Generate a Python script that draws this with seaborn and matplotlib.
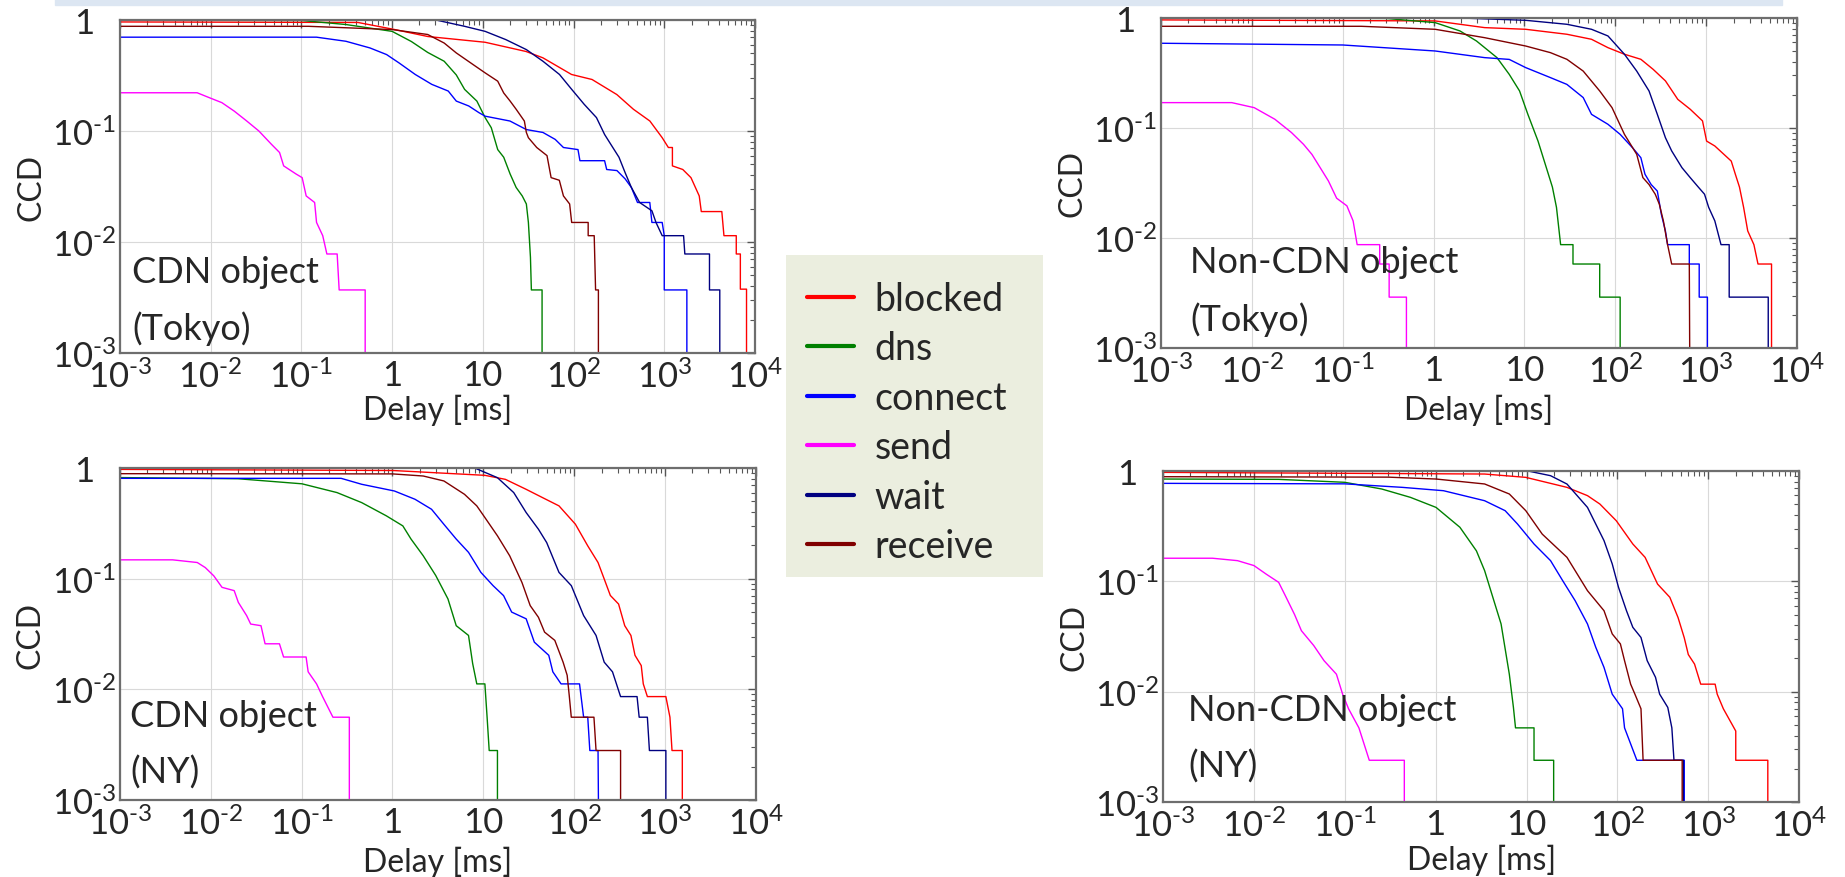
import matplotlib
matplotlib.use("Agg")
import matplotlib.pyplot as plt
import matplotlib.ticker as mticker
from matplotlib.lines import Line2D
from matplotlib.patches import Rectangle
import numpy as np
import seaborn as sns

# ---- data: (delay [ms], CCD) ----
# CDN object (Tokyo)
tokyo_cdn_blocked = [(0.001, 0.96), (0.42, 0.95), (1.07, 0.82), (2.47, 0.71), (10.6, 0.63), (30, 0.52),
                     (46, 0.456), (95, 0.323), (160, 0.291), (300, 0.213), (457, 0.157), (694, 0.123),
                     (949, 0.087), (1110, 0.071), (1230, 0.071), (1230, 0.0485), (1600, 0.045),
                     (1970, 0.038), (2430, 0.026), (2560, 0.0188), (4310, 0.0188), (4550, 0.0114),
                     (6220, 0.0114), (6220, 0.0078), (6900, 0.0078), (6900, 0.00376), (8070, 0.00376),
                     (8070, 0.0001)]
tokyo_cdn_dns = [(0.001, 0.995), (0.1, 0.99), (0.31, 0.91), (1.0, 0.79), (1.63, 0.64), (2.47, 0.51),
                 (3.75, 0.425), (5.1, 0.32), (6.3, 0.237), (8.6, 0.186), (10.6, 0.132), (12.4, 0.107),
                 (14.6, 0.068), (17, 0.058), (20, 0.041), (23.3, 0.031), (27.2, 0.026), (30.2, 0.022),
                 (31.8, 0.015), (33.5, 0.0073), (34.3, 0.0037), (45, 0.0037), (45, 0.0001)]
tokyo_cdn_connect = [(0.001, 0.70), (0.147, 0.70), (0.31, 0.643), (0.57, 0.56), (0.87, 0.488),
                     (1.19, 0.411), (1.8, 0.323), (2.74, 0.263), (4.16, 0.229), (5.1, 0.186), (7.0, 0.168),
                     (9.1, 0.146), (10.6, 0.136), (19.9, 0.123), (30.2, 0.103), (46, 0.097), (62.8, 0.084),
                     (77.4, 0.071), (112, 0.068), (117.6, 0.054), (220, 0.054), (232, 0.045), (301, 0.044),
                     (371, 0.037), (434, 0.031), (507, 0.0227), (693, 0.0227), (731, 0.015), (949, 0.015),
                     (1000, 0.0114), (1000, 0.0037), (1775, 0.0037), (1775, 0.0001)]
tokyo_cdn_send = [(0.001, 0.221), (0.0071, 0.221), (0.00975, 0.199), (0.0133, 0.18), (0.0182, 0.151),
                  (0.025, 0.123), (0.034, 0.1), (0.0467, 0.076), (0.0575, 0.064), (0.0638, 0.0485),
                  (0.0873, 0.041), (0.102, 0.038), (0.113, 0.026), (0.14, 0.0227), (0.147, 0.015),
                  (0.172, 0.0114), (0.191, 0.0078), (0.248, 0.0078), (0.261, 0.0037), (0.505, 0.0037),
                  (0.505, 0.0001)]
tokyo_cdn_wait = [(3.04, 1.0), (6.3, 0.877), (10.6, 0.79), (17.9, 0.666), (30.2, 0.541), (46, 0.425),
                  (70, 0.323), (95.5, 0.237), (131, 0.174), (179, 0.132), (220, 0.093), (271, 0.071),
                  (317, 0.058), (371, 0.042), (434, 0.031), (535, 0.0227), (731, 0.0191), (811, 0.015),
                  (949, 0.0114), (1633, 0.0114), (1686, 0.0078), (3152, 0.0078), (3152, 0.0037),
                  (4093, 0.0037), (4093, 0.0001)]
tokyo_cdn_receive = [(0.001, 0.877), (0.12, 0.877), (1.0, 0.82), (2.47, 0.74), (3.75, 0.62), (5.1, 0.505),
                     (7.8, 0.397), (10.6, 0.334), (14.6, 0.281), (17, 0.22), (20, 0.186), (23.3, 0.157),
                     (28.7, 0.123), (30.2, 0.097), (31.8, 0.087), (39.3, 0.071), (51, 0.06), (56.6, 0.038),
                     (69.7, 0.036), (77.4, 0.026), (90.6, 0.022), (95.4, 0.015), (145, 0.015), (145, 0.0114),
                     (169, 0.0114), (175, 0.0037), (188, 0.0037), (188, 0.0001)]

# Non-CDN object (Tokyo)
tokyo_non_blocked = [(0.001, 0.96), (1.04, 0.94), (3.64, 0.817), (10.3, 0.789), (29.3, 0.711), (54.7, 0.64),
                     (83, 0.537), (126, 0.468), (191, 0.421), (261, 0.341), (356, 0.268), (487, 0.182),
                     (667, 0.148), (911, 0.116), (1011, 0.076), (1245, 0.0686), (1888, 0.05), (2094, 0.038),
                     (2326, 0.029), (2582, 0.019), (2866, 0.0116), (3352, 0.0087), (3718, 0.0058),
                     (5240, 0.0058), (5240, 0.0001)]
tokyo_non_dns = [(0.01, 1.0), (0.3, 0.99), (1.04, 0.907), (1.95, 0.762), (2.96, 0.618), (4.98, 0.436),
                 (6.8, 0.307), (8.83, 0.217), (10.9, 0.133), (14.1, 0.076), (17.4, 0.0436), (20.3, 0.029),
                 (22.5, 0.019), (25, 0.0087), (34.2, 0.0087), (34.2, 0.0058), (67.3, 0.0058),
                 (67.3, 0.0029), (113, 0.0029), (113, 0.0001)]
tokyo_non_connect = [(0.001, 0.589), (0.1, 0.568), (1.04, 0.501), (3.64, 0.436), (6.8, 0.42), (10.3, 0.354),
                     (19.3, 0.287), (29.3, 0.249), (44.3, 0.189), (54.7, 0.133), (83, 0.108), (113, 0.0875),
                     (155, 0.066), (191, 0.0537), (212, 0.038), (248, 0.0306), (290, 0.0267), (321, 0.0164),
                     (356, 0.0116), (376, 0.0087), (652, 0.0087), (652, 0.0058), (838, 0.0058),
                     (838, 0.0029), (1032, 0.0029), (1032, 0.0001)]
tokyo_non_send = [(0.001, 0.17), (0.006, 0.17), (0.0106, 0.153), (0.0179, 0.12), (0.0272, 0.091),
                  (0.037, 0.071), (0.0458, 0.0575), (0.0564, 0.0436), (0.0695, 0.033), (0.0856, 0.023),
                  (0.111, 0.0196), (0.13, 0.0143), (0.144, 0.0087), (0.255, 0.0087), (0.255, 0.0058),
                  (0.324, 0.0058), (0.324, 0.0029), (0.502, 0.0029), (0.502, 0.0001)]
tokyo_non_wait = [(1.95, 1.0), (10.3, 0.952), (29.3, 0.876), (54.7, 0.789), (83, 0.686), (126, 0.468),
                  (172, 0.329), (235, 0.217), (290, 0.133), (356, 0.0816), (417, 0.0619), (541, 0.0436),
                  (667, 0.0354), (820, 0.029), (959, 0.025), (1065, 0.019), (1245, 0.0143), (1456, 0.0087),
                  (1792, 0.0087), (1792, 0.0029), (4820, 0.0029), (4820, 0.0001)]
tokyo_non_receive = [(0.001, 0.84), (0.16, 0.84), (1.04, 0.789), (3.64, 0.662), (10.3, 0.556), (19.3, 0.484),
                     (29.3, 0.421), (44.3, 0.329), (67.3, 0.217), (92, 0.153), (126, 0.0875), (172, 0.0576),
                     (201, 0.0354), (235, 0.0306), (275, 0.025), (305, 0.0203), (338, 0.0143), (376, 0.0087),
                     (417, 0.0058), (652, 0.0058), (667, 0.0001)]

# CDN object (NY)
ny_cdn_blocked = [(0.001, 0.972), (1.0, 0.95), (10.4, 0.859), (17.5, 0.79), (29.6, 0.642), (44.9, 0.54),
                  (68, 0.455), (103, 0.311), (141, 0.198), (183, 0.14), (214, 0.0994), (250, 0.0705),
                  (308, 0.059), (360, 0.0376), (421, 0.0307), (467, 0.0203), (547, 0.0164), (576, 0.0112),
                  (639, 0.0086), (1021, 0.0086), (1132, 0.0056), (1193, 0.0028), (1549, 0.0028),
                  (1549, 0.0001)]
ny_cdn_dns = [(0.001, 0.82), (0.02, 0.80), (0.101, 0.72), (0.245, 0.60), (0.458, 0.487), (0.855, 0.37),
              (1.3, 0.30), (1.6, 0.228), (2.18, 0.161), (2.99, 0.107), (4.08, 0.0656), (5.03, 0.0376),
              (6.87, 0.0307), (7.63, 0.0171), (8.47, 0.0112), (10.4, 0.0112), (11, 0.0056), (11.6, 0.0028),
              (14.3, 0.0028), (14.3, 0.0001)]
ny_cdn_connect = [(0.001, 0.807), (0.272, 0.807), (0.458, 0.713), (1.05, 0.62), (1.77, 0.522), (2.69, 0.424),
                  (3.68, 0.31), (5.03, 0.228), (6.87, 0.173), (9.4, 0.114), (12.8, 0.0865), (16.7, 0.0703),
                  (20.5, 0.0499), (29.6, 0.0434), (36.4, 0.0267), (52.5, 0.0203), (58.2, 0.0144),
                  (71.7, 0.0112), (114.5, 0.0112), (127, 0.0056), (141, 0.0056), (148.6, 0.0028),
                  (183, 0.0028), (189, 0.0001)]
ny_cdn_send = [(0.001, 0.148), (0.0038, 0.148), (0.0071, 0.14), (0.0087, 0.126), (0.0108, 0.106),
               (0.0133, 0.0835), (0.0181, 0.078), (0.0201, 0.0611), (0.0248, 0.0464), (0.0275, 0.0389),
               (0.0357, 0.0376), (0.0396, 0.0258), (0.057, 0.0258), (0.0633, 0.0196), (0.112, 0.0196),
               (0.118, 0.0144), (0.146, 0.0112), (0.17, 0.0086), (0.221, 0.0056), (0.335, 0.0056),
               (0.335, 0.0001)]
ny_cdn_wait = [(8.04, 1.0), (14.3, 0.818), (21.6, 0.6), (29.6, 0.396), (40.4, 0.28), (49.8, 0.212),
               (68, 0.114), (93, 0.0865), (127, 0.0464), (174, 0.0307), (214, 0.0176), (264, 0.0144),
               (324, 0.0086), (492, 0.0086), (519, 0.0056), (639, 0.0056), (673, 0.0028), (1021, 0.0028),
               (1021, 0.0001)]
ny_cdn_receive = [(0.001, 0.889), (1.0, 0.885), (2.18, 0.847), (3.68, 0.764), (6.2, 0.579), (8.47, 0.455),
                  (10.4, 0.357), (14.3, 0.244), (19.5, 0.161), (26.6, 0.0925), (32.8, 0.0571),
                  (40.4, 0.0448), (47.2, 0.0329), (61.2, 0.0277), (75.5, 0.0176), (83.7, 0.0134),
                  (88.2, 0.0088), (92.9, 0.0056), (165, 0.0056), (174, 0.0028), (324, 0.0028),
                  (324, 0.0001)]

# Non-CDN object (NY)
ny_non_blocked = [(0.001, 0.972), (3.46, 0.939), (9.82, 0.876), (27.9, 0.711), (46.9, 0.598), (64.2, 0.502),
                  (97.4, 0.354), (148, 0.218), (202, 0.165), (277, 0.0945), (378, 0.0717), (466, 0.0469),
                  (545, 0.0308), (604, 0.0217), (707, 0.0178), (827, 0.0117), (1192, 0.0117),
                  (1256, 0.0095), (1468, 0.007), (2010, 0.0044), (2010, 0.00239), (4530, 0.00239),
                  (4530, 0.0001)]
ny_non_dns = [(0.001, 0.846), (0.0187, 0.84), (0.1, 0.79), (0.255, 0.687), (0.528, 0.577), (1.01, 0.468),
              (1.85, 0.309), (2.81, 0.189), (3.46, 0.125), (4.26, 0.0717), (5.25, 0.0411), (6.47, 0.0144),
              (7.18, 0.0072), (7.57, 0.0047), (12.1, 0.0047), (12.1, 0.00239), (19.9, 0.00239),
              (19.9, 0.0001)]
ny_non_connect = [(0.001, 0.773), (0.1, 0.765), (0.43, 0.711), (1.22, 0.663), (3.46, 0.538), (5.82, 0.437),
                  (7.96, 0.331), (12.1, 0.218), (18.4, 0.154), (25.1, 0.101), (34.3, 0.0668), (46.9, 0.0411),
                  (57.8, 0.0253), (71.3, 0.0166), (87.8, 0.0095), (114, 0.007), (120, 0.0047),
                  (164, 0.00239), (545, 0.00239), (545, 0.0001)]
ny_non_send = [(0.001, 0.162), (0.0035, 0.162), (0.0066, 0.154), (0.01, 0.139), (0.0137, 0.116),
               (0.0187, 0.098), (0.022, 0.075), (0.028, 0.05), (0.0333, 0.0357), (0.0455, 0.0262),
               (0.0591, 0.0191), (0.0809, 0.0144), (0.0946, 0.0095), (0.11, 0.007), (0.143, 0.0047),
               (0.186, 0.00239), (0.452, 0.00239), (0.452, 0.0001)]
ny_non_wait = [(10.4, 1.0), (18.4, 0.907), (27.9, 0.762), (46.9, 0.468), (71.3, 0.234), (87.8, 0.144),
               (103, 0.0882), (126, 0.0542), (148, 0.0383), (182, 0.031), (213, 0.0191), (263, 0.0135),
               (292, 0.0095), (359, 0.0072), (398, 0.0047), (420, 0.00239), (533, 0.00239), (533, 0.0001)]
ny_non_receive = [(0.001, 0.888), (0.3, 0.88), (1.01, 0.846), (3.46, 0.763), (6.47, 0.619), (9.82, 0.437),
                  (14.9, 0.268), (27.9, 0.165), (46.9, 0.0823), (71.3, 0.0542), (87.8, 0.0334),
                  (108, 0.0271), (120, 0.0191), (140, 0.0117), (156, 0.0095), (182, 0.007), (192, 0.00239),
                  (517, 0.00239), (517, 0.0001)]

series_names = ["blocked", "dns", "connect", "send", "wait", "receive"]
series_colors = ["#ff0000", "#008000", "#0000ff", "#ff00ff", "#000080", "#800000"]

panel_titles = ["CDN object\n(Tokyo)", "Non-CDN object\n(Tokyo)", "CDN object\n(NY)", "Non-CDN object\n(NY)"]
panel_series = [
    [tokyo_cdn_blocked, tokyo_cdn_dns, tokyo_cdn_connect, tokyo_cdn_send, tokyo_cdn_wait, tokyo_cdn_receive],
    [tokyo_non_blocked, tokyo_non_dns, tokyo_non_connect, tokyo_non_send, tokyo_non_wait, tokyo_non_receive],
    [ny_cdn_blocked, ny_cdn_dns, ny_cdn_connect, ny_cdn_send, ny_cdn_wait, ny_cdn_receive],
    [ny_non_blocked, ny_non_dns, ny_non_connect, ny_non_send, ny_non_wait, ny_non_receive],
]

x_ticks = [1e-3, 1e-2, 1e-1, 1, 10, 1e2, 1e3, 1e4]
x_tick_labels = [r"$10^{\text{-}3}$", r"$10^{\text{-}2}$", r"$10^{\text{-}1}$",
                 "1", "10", r"$10^{2}$", r"$10^{3}$", r"$10^{4}$"]
y_ticks = [1e-3, 1e-2, 1e-1, 1]
y_tick_labels = [r"$10^{\text{-}3}$", r"$10^{\text{-}2}$", r"$10^{\text{-}1}$", "1"]

# ---- style ----
sns.set_style("white")
plt.rcParams["font.family"] = ["Lato", "DejaVu Sans"]
plt.rcParams["mathtext.fontset"] = "custom"
plt.rcParams["mathtext.rm"] = "Lato"
plt.rcParams["mathtext.it"] = "Lato"
plt.rcParams["mathtext.bf"] = "Lato:bold"

fig = plt.figure(figsize=(18.45, 8.78), dpi=100)

# slide header strip
fig.patches.append(Rectangle((55 / 1845, 1 - 6 / 878), (1782 - 55) / 1845, 6 / 878,
                             transform=fig.transFigure, color="#dce6f2", zorder=0))

axes_boxes = [
    [0.0650, 0.5968, 0.3442, 0.3793],
    [0.6293, 0.6025, 0.3447, 0.3759],
    [0.0650, 0.0877, 0.3447, 0.3781],
    [0.6304, 0.0854, 0.3447, 0.3770],
]
text_pos = [(0.019, 0.295), (0.046, 0.312), (0.016, 0.303), (0.039, 0.33)]
xlabel_y = [-0.168, -0.185, -0.184, -0.172]

for box, title, series, tpos, xly in zip(axes_boxes, panel_titles, panel_series, text_pos, xlabel_y):
    ax = fig.add_axes(box)
    for name, color, pts in zip(series_names, series_colors, series):
        xs = [p[0] for p in pts]
        ys = [p[1] for p in pts]
        sns.lineplot(x=xs, y=ys, sort=False, estimator=None, color=color, lw=1.0, ax=ax)
    ax.set_xscale("log")
    ax.set_yscale("log")
    ax.set_xlim(1e-3, 1e4)
    ax.set_ylim(1e-3, 1)
    ax.xaxis.set_major_locator(mticker.FixedLocator(x_ticks))
    ax.xaxis.set_major_formatter(mticker.FixedFormatter(x_tick_labels))
    ax.yaxis.set_major_locator(mticker.FixedLocator(y_ticks))
    ax.yaxis.set_major_formatter(mticker.FixedFormatter(y_tick_labels))
    ax.xaxis.set_minor_locator(mticker.LogLocator(base=10, subs=np.arange(2, 10), numticks=100))
    ax.yaxis.set_minor_locator(mticker.LogLocator(base=10, subs=np.arange(2, 10), numticks=100))
    ax.xaxis.set_minor_formatter(mticker.NullFormatter())
    ax.yaxis.set_minor_formatter(mticker.NullFormatter())
    ax.tick_params(which="both", direction="in", top=True, right=True, color="#555555",
                   labelsize=25)
    ax.tick_params(which="major", length=6, width=1)
    ax.tick_params(which="minor", length=3.5, width=0.8)
    ax.tick_params(axis="x", which="major", pad=4)
    ax.tick_params(axis="y", which="major", pad=26)
    ax.grid(True, which="major", color="#d9d9d9", lw=0.8)
    for s in ax.spines.values():
        s.set_color("#6e6e6e")
        s.set_linewidth(1.6)
    ax.set_xlabel("Delay [ms]", fontsize=23)
    ax.set_ylabel("CCD", fontsize=23)
    ax.xaxis.label.set_va("center")
    ax.yaxis.label.set_va("center")
    ax.xaxis.set_label_coords(0.5, xly)
    ax.yaxis.set_label_coords(-0.14, 0.5)
    ax.text(tpos[0], tpos[1], title, transform=ax.transAxes, ha="left", va="top",
            fontsize=26, linespacing=1.8)
    # y tick labels are centred under each other, as in the original
    plt.setp(ax.get_yticklabels(), ha="center")

# legend box in the middle
lax = fig.add_axes([786 / 1845, (878 - 578) / 878, 257 / 1845, 322 / 878])
lax.set_facecolor("#ebeedf")
lax.set_xticks([])
lax.set_yticks([])
for s in lax.spines.values():
    s.set_visible(False)
handles = [Line2D([], [], color=c, lw=3) for c in series_colors]
lax.legend(handles, series_names, loc="upper left", bbox_to_anchor=(0.082, 0.92), frameon=False,
           fontsize=27, handlelength=1.25, handletextpad=0.55, labelspacing=0.36,
           borderpad=0, borderaxespad=0)

fig.savefig("out.png", dpi=100)
